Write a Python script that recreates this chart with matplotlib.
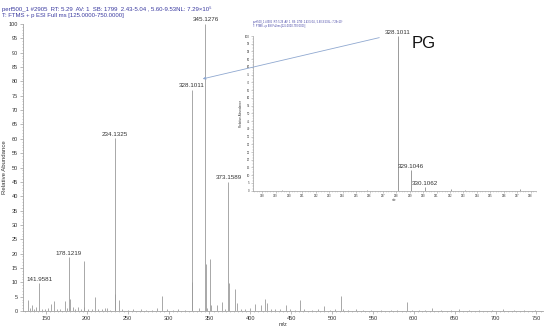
import matplotlib
matplotlib.use("Agg")
import matplotlib.pyplot as plt
from matplotlib.ticker import MultipleLocator

plt.rcParams['font.family'] = ['Liberation Sans', 'DejaVu Sans']

# ---------------- data ----------------
main_mz = [128.5, 130.1, 132.7, 135.0, 137.9, 141.9581, 145.0, 149.0, 152.5, 156.3,
           159.6, 163.0, 167.5, 173.0, 175.5, 178.1219, 179.13, 182.6, 186.0, 189.7,
           193.0, 196.1, 197.1, 201.0, 206.0, 210.1, 214.0, 219.0, 222.0, 225.0,
           229.0, 234.1325, 235.1, 239.5, 243.0, 250.0, 257.0, 266.0, 272.0, 280.0,
           286.0, 292.4, 298.0, 305.0, 312.0, 320.0, 328.1011, 329.1, 337.7, 345.1276,
           346.13, 347.1, 351.08, 352.1, 359.0, 365.8, 369.0, 373.1589, 374.16, 381.4,
           383.8, 389.0, 394.0, 399.7, 405.8, 413.0, 417.5, 420.0, 425.0, 430.0,
           436.0, 443.8, 448.0, 455.0, 460.9, 466.0, 475.0, 483.0, 490.2, 498.0,
           504.0, 510.7, 513.0, 520.0, 529.0, 538.0, 548.0, 560.0, 572.0, 580.0,
           591.4, 598.0, 606.0, 614.0, 622.0, 633.0, 645.0, 655.0, 668.0, 680.0,
           696.0, 709.0, 722.0, 735.0, 748.0]
main_ab = [3.8, 1.2, 2.0, 0.8, 1.3, 9.6, 0.6, 0.8, 1.0, 2.6,
           3.5, 0.8, 0.6, 3.5, 1.0, 18.7, 4.2, 1.5, 0.8, 1.5,
           0.7, 17.5, 1.3, 0.6, 0.8, 4.8, 0.6, 0.7, 1.0, 1.1,
           0.5, 60.2, 5.9, 4.0, 0.7, 0.5, 0.6, 0.7, 0.5, 0.5,
           1.0, 5.4, 0.6, 0.5, 0.6, 0.5, 77.0, 10.2, 1.0, 100.0,
           16.5, 1.2, 18.0, 2.0, 2.0, 3.1, 0.8, 45.0, 9.9, 7.7,
           2.7, 0.8, 0.6, 1.2, 2.5, 2.0, 4.3, 2.9, 0.8, 0.6,
           0.8, 2.0, 0.6, 0.5, 3.8, 0.6, 0.5, 0.6, 1.7, 0.5,
           0.6, 5.2, 0.8, 0.5, 0.8, 0.5, 0.5, 0.5, 0.5, 0.4,
           3.1, 0.5, 0.5, 0.4, 1.2, 0.4, 0.4, 0.6, 0.4, 0.4,
           0.4, 0.6, 0.4, 0.4, 0.4]
main_labels = ["141.9581", "178.1219", "234.1325", "328.1011", "345.1276", "373.1589"]

inset_mz = [319.5, 325.8, 328.1011, 329.1046, 330.1062, 332.08, 333.1, 337.2]
inset_ab = [0.2, 0.3, 100.0, 13.1, 2.2, 0.8, 0.5, 1.3]
inset_labels = ["328.1011", "329.1046", "330.1062"]

header1 = "perf500_1 #2905  RT: 5.29  AV: 1  SB: 1799  2.43-5.04 , 5.60-9.53NL: 7.29×10⁵"
header2 = "T: FTMS + p ESI Full ms [125.0000-750.0000]"

main_xticks = list(range(150, 751, 50))
main_yticks = list(range(0, 101, 5))
inset_xticks = list(range(318, 339))
inset_yticks = list(range(0, 101, 5))

# ---------------- figure ----------------
W, H = 550, 333
fig = plt.figure(figsize=(5.5, 3.33), dpi=100)
fig.patch.set_facecolor('white')

peak_col = '#9a9a9a'
axis_col = '#a0a0a0'
txt_col = '#333333'
blue = '#3a3aa0'

def fx(px):
    return px / W

def fy(py):
    return 1 - py / H

ax = fig.add_axes([fx(23), fy(311), fx(543) - fx(23), fy(24) - fy(311)])
ax.vlines(main_mz, 0, main_ab, color=peak_col, linewidth=0.6)
ax.set_xlim(122, 758)
ax.set_ylim(0, 100)
ax.set_xticks(main_xticks)
ax.set_yticks(main_yticks)
ax.xaxis.set_minor_locator(MultipleLocator(5))
ax.yaxis.set_minor_locator(MultipleLocator(1))
ax.tick_params(axis='both', which='major', labelsize=4, length=2, width=0.5,
               colors=axis_col, labelcolor=txt_col, pad=1.5)
ax.tick_params(axis='both', which='minor', length=1, width=0.4, colors=axis_col)
for s in ['top', 'right']:
    ax.spines[s].set_visible(False)
for s in ['left', 'bottom']:
    ax.spines[s].set_color(axis_col)
    ax.spines[s].set_linewidth(0.6)
ax.set_xlabel("m/z", fontsize=4, color=txt_col, labelpad=1)
ax.set_ylabel("Relative Abundance", fontsize=4.3, color=txt_col, labelpad=1.5)

for lab in main_labels:
    i = main_mz.index(float(lab))
    ax.annotate(lab, (main_mz[i], main_ab[i]), xytext=(0, 1.2), textcoords='offset points',
                ha='center', va='bottom', fontsize=4.5, color=txt_col, annotation_clip=False)

fig.text(fx(2), fy(9), header1, fontsize=4.3, color=blue, va='center', ha='left')
fig.text(fx(2), fy(15.5), header2, fontsize=4.3, color=blue, va='center', ha='left')

# ---------------- inset ----------------
ax2 = fig.add_axes([fx(252.7), fy(190.7), fx(536) - fx(252.7), fy(36) - fy(190.7)])
ax2.set_facecolor('white')
ax2.vlines(inset_mz, 0, inset_ab, color=peak_col, linewidth=0.7)
ax2.set_xlim(317.3, 338.4)
ax2.set_ylim(0, 100)
ax2.set_xticks(inset_xticks)
ax2.set_yticks(inset_yticks)
ax2.xaxis.set_minor_locator(MultipleLocator(0.2))
ax2.yaxis.set_minor_locator(MultipleLocator(1))
ax2.tick_params(axis='both', which='major', labelsize=2, length=1.2, width=0.4,
                colors=axis_col, labelcolor=txt_col, pad=1)
ax2.tick_params(axis='both', which='minor', length=0.6, width=0.3, colors=axis_col)
for s in ['top', 'right']:
    ax2.spines[s].set_visible(False)
for s in ['left', 'bottom']:
    ax2.spines[s].set_color(axis_col)
    ax2.spines[s].set_linewidth(0.5)
ax2.set_xlabel("m/z", fontsize=2, color=txt_col, labelpad=0.5)
ax2.set_ylabel("Relative Abundance", fontsize=2.2, color=txt_col, labelpad=1.5)

for lab in inset_labels:
    i = inset_mz.index(float(lab))
    ax2.annotate(lab, (inset_mz[i], inset_ab[i]), xytext=(0, 1), textcoords='offset points',
                 ha='center', va='bottom', fontsize=4.5, color=txt_col, annotation_clip=False)

fig.text(fx(253), fy(22), header1, fontsize=1.8, color=blue, va='center', ha='left')
fig.text(fx(253), fy(25.5), header2, fontsize=1.8, color=blue, va='center', ha='left')

fig.text(fx(412), fy(44), "PG", fontsize=12, color='#111111', va='center', ha='left')

# arrow from inset label to main peak label
fig.add_artist(matplotlib.patches.FancyArrowPatch(
    (fx(382), fy(37)), (fx(200), fy(79.5)), transform=fig.transFigure,
    arrowstyle='-|>', mutation_scale=4, color='#8fa8d0', linewidth=0.6))

fig.savefig("out.png", dpi=100, facecolor='white')
